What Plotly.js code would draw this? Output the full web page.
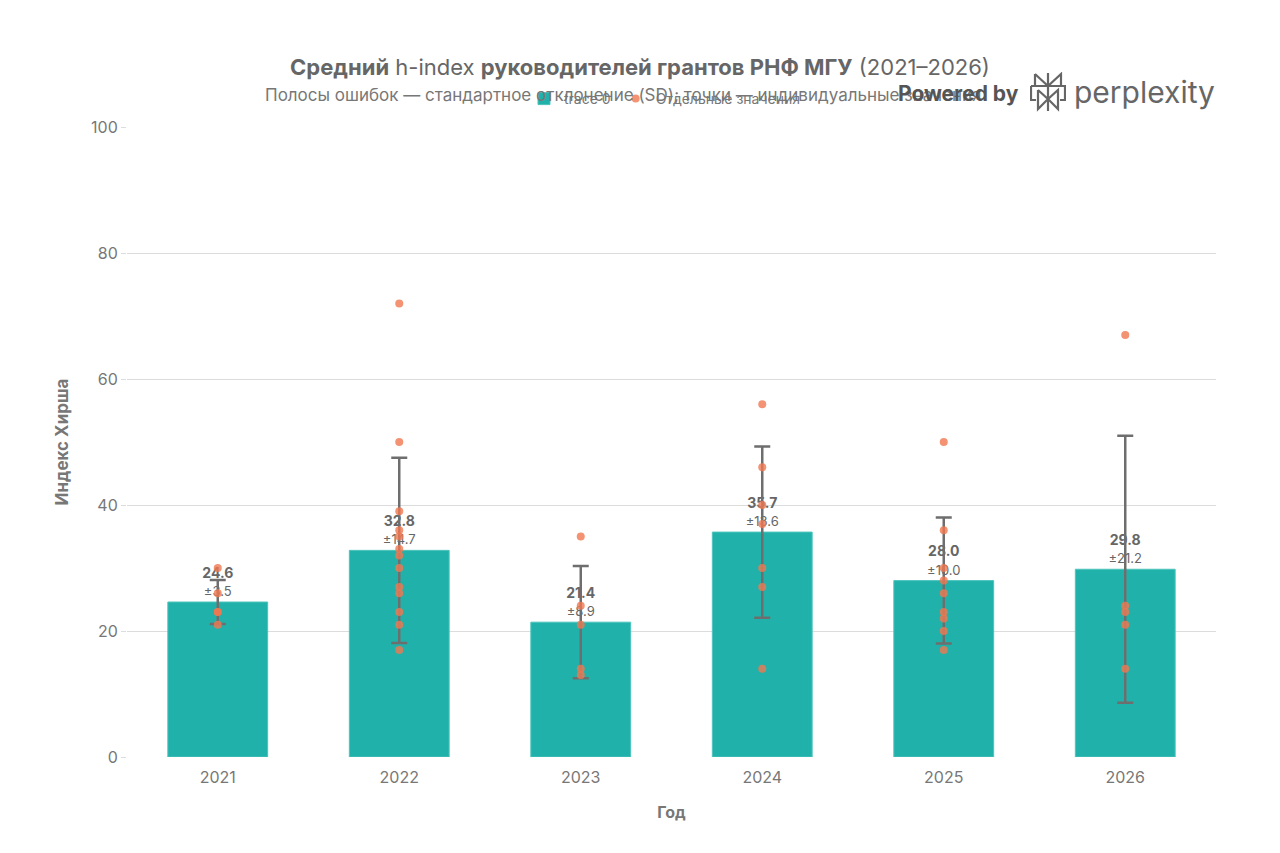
<!DOCTYPE html>
<html>
<head>
<meta charset="utf-8">
<script src="https://cdn.plot.ly/plotly-3.0.1.min.js"></script>
<style>
    html, body { margin: 0; padding: 0; background: #fff; }
    #graph { width: 1280px; height: 853px; }
</style>
</head>
<body>
<div id="graph"></div>
<script>
// years on the x axis
const years = ["2021", "2022", "2023", "2024", "2025", "2026"];

// mean h-index and standard deviation, as labelled on the bars
const means = [24.6, 32.8, 21.4, 35.7, 28.0, 29.8];
const sds = [3.5, 14.7, 8.9, 13.6, 10.0, 21.2];

// individual values per year
const vals2021 = [30, 26, 23, 23, 21];
const vals2022 = [72, 50, 39, 36, 35, 33, 32, 30, 27, 26, 23, 21, 17];
const vals2023 = [35, 24, 21, 14, 13];
const vals2024 = [56, 46, 40, 37, 30, 27, 14];
const vals2025 = [50, 36, 30, 28, 26, 23, 22, 20, 17];
const vals2026 = [67, 24, 23, 21, 14];

const yTicks = [0, 20, 40, 60, 80, 100];

const textColor = "#666";
const fontFamily = "Inter, 'Noto Sans', sans-serif";

// plot box in pixels, used to place the header bits
const plotLeft = 127, plotRight = 1216, plotTop = 127, plotBottom = 757;
const px = x => (x - plotLeft) / (plotRight - plotLeft);
const py = y => (plotBottom - y) / (plotBottom - plotTop);

function buildPoints() {
    const groups = [vals2021, vals2022, vals2023, vals2024, vals2025, vals2026];
    var xs = [];
    var ys = [];
    groups.forEach((g, i) => {
        g.forEach(v => {
            xs.push(years[i]);
            ys.push(v);
        });
    });
    return { x: xs, y: ys };
}

function initPlot() {
    const pts = buildPoints();

    const barTrace = {
        type: "bar",
        x: years,
        y: means,
        width: 0.55,
        marker: { color: "#20B2AA", line: { color: "#4cc3bc", width: 1 } },
        error_y: {
            type: "data",
            array: sds,
            visible: true,
            color: "#6e6e6e",
            thickness: 2.5,
            width: 8
        },
        text: means.map((m, i) => `<b>${m.toFixed(1)}</b><br><span style="font-size:13px">±${sds[i].toFixed(1)}</span>`),
        textposition: "outside",
        textfont: { size: 14, color: "#666", family: fontFamily },
        cliponaxis: false,
        hoverinfo: "skip"
    };

    const pointTrace = {
        type: "scatter",
        mode: "markers",
        name: "Отдельные значения",
        x: pts.x,
        y: pts.y,
        marker: { color: "rgb(240,120,80)", size: 8, opacity: 0.8 },
        cliponaxis: false
    };

    const layout = {
        width: 1280,
        height: 853,
        paper_bgcolor: "#fff",
        plot_bgcolor: "#fff",
        font: { family: fontFamily, color: textColor, size: 15 },
        margin: { l: plotLeft, r: 1280 - plotRight, t: plotTop, b: 853 - plotBottom },
        title: {
            text: "<b>Средний</b> h-index <b>руководителей грантов РНФ МГУ</b> (2021–2026)",
            font: { size: 22, color: "#666", family: fontFamily },
            x: 0.5,
            xref: "container",
            xanchor: "center",
            y: 1 - 67 / 853,
            yref: "container",
            yanchor: "middle"
        },
        showlegend: true,
        legend: {
            orientation: "h",
            x: px(524),
            xanchor: "left",
            y: py(99),
            yanchor: "middle",
            bgcolor: "rgba(0,0,0,0)",
            font: { size: 14, color: "#777", family: fontFamily }
        },
        xaxis: {
            type: "category",
            tickfont: { size: 16, color: "#777" },
            title: { text: "<b>Год</b>", font: { size: 16, color: "#777" }, standoff: 20 },
            showgrid: false,
            zeroline: false,
            showline: false,
            ticks: "outside",
            ticklen: 6,
            tickcolor: "rgba(0,0,0,0)"
        },
        yaxis: {
            range: [0, 100],
            tickvals: yTicks,
            ticks: "outside",
            ticklen: 5,
            tickcolor: "#ddd",
            tickfont: { size: 16, color: "#777" },
            gridcolor: "#dcdcdc",
            gridwidth: 1,
            zeroline: false,
            showline: false,
            title: { text: "<b>Индекс Хирша</b>", font: { size: 17, color: "#777" }, standoff: 18 }
        },
        bargap: 0.45,
        images: [{
            source: "data:image/svg+xml;utf8," + encodeURIComponent(
                '<svg xmlns="http://www.w3.org/2000/svg" viewBox="0 0 36 40">' +
                '<g fill="none" stroke="#666" stroke-width="2.2" stroke-linejoin="miter">' +
                '<path d="M18 1 V39"/>' +
                '<path d="M5 2 L18 14 L31 2 V14 M5 2 V14"/>' +
                '<path d="M1 14 H35 V28 H30 M1 14 V28 H6"/>' +
                '<path d="M8 18 V37 L18 27 L28 37 V18 L18 27 L8 18"/>' +
                '</g></svg>'),
            xref: "paper", yref: "paper",
            x: px(1030), y: py(72),
            sizex: 36 / (plotRight - plotLeft), sizey: 40 / (plotBottom - plotTop),
            xanchor: "left", yanchor: "top",
            sizing: "stretch",
            layer: "above"
        }],
        annotations: [
            {
                // subtitle
                text: "Полосы ошибок — стандартное отклонение (SD); точки — индивидуальные значения",
                xref: "paper", yref: "paper",
                x: px(263), y: py(95),
                xanchor: "left", yanchor: "middle",
                showarrow: false,
                font: { size: 17, color: "#777", family: fontFamily }
            },
            {
                text: "<b>Powered by</b>",
                xref: "paper", yref: "paper",
                x: px(1021), y: py(94),
                xanchor: "right", yanchor: "middle",
                showarrow: false,
                font: { size: 21, color: "#555", family: fontFamily }
            },
            {
                text: "perplexity",
                xref: "paper", yref: "paper",
                x: px(1072), y: py(92),
                xanchor: "left", yanchor: "middle",
                showarrow: false,
                font: { size: 30, color: "#666", family: fontFamily }
            }
        ]
    };

    const config = { displayModeBar: false, responsive: false };

    Plotly.newPlot("graph", [barTrace, pointTrace], layout, config);
}

document.addEventListener("DOMContentLoaded", () => {
    initPlot();
});
</script>
</body>
</html>
